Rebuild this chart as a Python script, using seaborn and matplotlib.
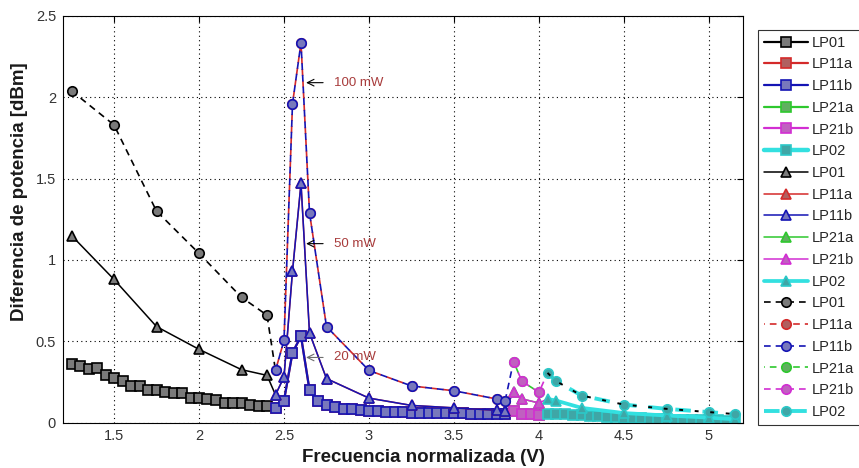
import matplotlib
matplotlib.use("Agg")
import matplotlib.pyplot as plt
import seaborn as sns
import pandas as pd

sns.set_theme(style="white")
plt.rcParams['font.family'] = ['Liberation Sans', 'DejaVu Sans']

# ---------------- data ----------------
# squares
sq_lp01_x = [1.25, 1.30, 1.35, 1.40, 1.45, 1.50, 1.55, 1.60, 1.65, 1.70, 1.75, 1.80,
             1.85, 1.90, 1.95, 2.00, 2.05, 2.10, 2.15, 2.20, 2.25, 2.30, 2.35, 2.40]
sq_lp01_y = [0.36, 0.345, 0.33, 0.335, 0.295, 0.275, 0.258, 0.227, 0.227, 0.202, 0.202, 0.186,
             0.182, 0.182, 0.151, 0.151, 0.145, 0.137, 0.117, 0.117, 0.117, 0.110, 0.104, 0.100]
sq_lp11_x = [2.45, 2.50, 2.55, 2.60, 2.65, 2.70, 2.75, 2.80, 2.85, 2.90, 2.95, 3.00, 3.05, 3.10,
             3.15, 3.20, 3.25, 3.30, 3.35, 3.40, 3.45, 3.50, 3.55, 3.60, 3.65, 3.70, 3.75, 3.80]
sq_lp11_y = [0.09, 0.135, 0.43, 0.53, 0.20, 0.13, 0.11, 0.095, 0.085, 0.08, 0.075, 0.07, 0.068, 0.066,
             0.064, 0.062, 0.061, 0.06, 0.059, 0.058, 0.057, 0.056, 0.056, 0.055, 0.055, 0.054, 0.054, 0.053]
sq_lp21_x = [3.85, 3.90, 3.95, 4.00]
sq_lp21_y = [0.07, 0.055, 0.05, 0.047]
sq_lp02_x = [4.05, 4.10, 4.15, 4.20, 4.25, 4.30, 4.35, 4.40, 4.45, 4.50, 4.55, 4.60,
             4.65, 4.70, 4.75, 4.80, 4.85, 4.90, 4.95, 5.00, 5.05, 5.10, 5.15]
sq_lp02_y = [0.055, 0.052, 0.05, 0.047, 0.044, 0.041, 0.038, 0.035, 0.032, 0.03, 0.028, 0.026,
             0.024, 0.022, 0.02, 0.018, 0.017, 0.016, 0.015, 0.014, 0.013, 0.012, 0.011]

# triangles
tr_lp01_x = [1.25, 1.5, 1.75, 2.0, 2.25, 2.4]
tr_lp01_y = [1.15, 0.88, 0.59, 0.45, 0.325, 0.29]
tr_lp11_x = [2.45, 2.5, 2.55, 2.6, 2.65, 2.75, 3.0, 3.25, 3.5, 3.75, 3.8]
tr_lp11_y = [0.17, 0.28, 0.93, 1.47, 0.55, 0.27, 0.15, 0.105, 0.09, 0.075, 0.07]
tr_lp21_x = [3.85, 3.9, 4.0]
tr_lp21_y = [0.19, 0.145, 0.12]
tr_lp02_x = [4.05, 4.1, 4.25, 4.5, 4.75, 5.0, 5.15]
tr_lp02_y = [0.145, 0.135, 0.09, 0.058, 0.043, 0.03, 0.02]

# circles
ci_lp01_x = [1.25, 1.5, 1.75, 2.0, 2.25, 2.4]
ci_lp01_y = [2.04, 1.83, 1.30, 1.04, 0.77, 0.66]
ci_lp11_x = [2.45, 2.5, 2.55, 2.6, 2.65, 2.75, 3.0, 3.25, 3.5, 3.75, 3.8]
ci_lp11_y = [0.32, 0.505, 1.96, 2.335, 1.29, 0.59, 0.32, 0.225, 0.195, 0.145, 0.13]
ci_lp21_x = [3.85, 3.9, 4.0]
ci_lp21_y = [0.375, 0.253, 0.186]
ci_lp02_x = [4.05, 4.1, 4.25, 4.5, 4.75, 5.0, 5.15]
ci_lp02_y = [0.305, 0.255, 0.166, 0.11, 0.084, 0.064, 0.052]

modes = ["LP01", "LP11a", "LP11b", "LP21a", "LP21b", "LP02"]
x_ticks = [1.5, 2, 2.5, 3, 3.5, 4, 4.5, 5]
y_ticks = [0, 0.5, 1, 1.5, 2, 2.5]

annot_labels = ["100 mW", "50 mW", "20 mW"]
annot_y = [2.09, 1.10, 0.40]

# ---------------- styles ----------------
line_col = {"LP01": "#000000", "LP11a": "#d42a2a", "LP11b": "#1414b4",
            "LP21a": "#2ec82e", "LP21b": "#d22ed2", "LP02": "#33e0e0"}
face_col = {"LP01": "#7a7a7a", "LP11a": "#b06060", "LP11b": "#7878bc",
            "LP21a": "#60b060", "LP21b": "#c060c0", "LP02": "#3fa6a6"}

fig = plt.figure(figsize=(8.59, 4.68), dpi=100)
ax = fig.add_axes([63 / 859, 1 - 422.5 / 468, 680 / 859, 406.5 / 468])

groups = [
    ("s", "-", {"LP01": (sq_lp01_x, sq_lp01_y), "LP11a": (sq_lp11_x, sq_lp11_y),
                "LP11b": (sq_lp11_x, sq_lp11_y), "LP21a": (sq_lp21_x, sq_lp21_y),
                "LP21b": (sq_lp21_x, sq_lp21_y), "LP02": (sq_lp02_x, sq_lp02_y)}, 6.6, 1.6),
    ("^", "-", {"LP01": (tr_lp01_x, tr_lp01_y), "LP11a": (tr_lp11_x, tr_lp11_y),
                "LP11b": (tr_lp11_x, tr_lp11_y), "LP21a": (tr_lp21_x, tr_lp21_y),
                "LP21b": (tr_lp21_x, tr_lp21_y), "LP02": (tr_lp02_x, tr_lp02_y)}, 6.8, 1.1),
    ("o", "--", {"LP01": (ci_lp01_x, ci_lp01_y), "LP11a": (ci_lp11_x, ci_lp11_y),
                 "LP11b": (ci_lp11_x, ci_lp11_y), "LP21a": (ci_lp21_x, ci_lp21_y),
                 "LP21b": (ci_lp21_x, ci_lp21_y), "LP02": (ci_lp02_x, ci_lp02_y)}, 6.8, 1.2),
]

# which series continue into the next one
next_of = {"LP01": "LP11b", "LP11b": "LP21b", "LP21b": "LP02"}

handles = []
labels = []
for marker, ls, data, ms, lw in groups:
    for m in modes:
        x, y = data[m]
        xs, ys = list(x), list(y)
        if m in next_of:
            nx, ny = data[next_of[m]]
            xs.append(nx[0])
            ys.append(ny[0])
        df = pd.DataFrame({"x": xs, "y": ys})
        lwm = lw
        if m == "LP02":
            lwm = lw + 1.6
        linestyle = ls
        if ls == "--":
            linestyle = (0, (4, 3))
            if m in ("LP11a", "LP21a"):
                linestyle = (3.5, (4, 3))
        sns.lineplot(data=df, x="x", y="y", ax=ax, sort=False, estimator=None,
                     color=line_col[m], linestyle=linestyle, linewidth=lwm,
                     marker=marker, markersize=ms, markerfacecolor=face_col[m],
                     markeredgecolor=line_col[m] if m != "LP02" else "#2cc8c8",
                     markeredgewidth=1.2, markevery=list(range(len(x))),
                     label=m, legend=False)
        ln = ax.lines[-1]
        handles.append(ln)
        labels.append(m)
        if m == "LP02" and marker == "o":
            sns.lineplot(data=df, x="x", y="y", ax=ax, sort=False, estimator=None,
                         color="#000000", linestyle=(0, (2, 6)), linewidth=1.4,
                         legend=False)

# annotations
arrow_cols = ["#000000", "#000000", "#6e6e6e"]
for lab, yy, ac in zip(annot_labels, annot_y, arrow_cols):
    ax.annotate("", xy=(2.63, yy), xytext=(2.73, yy),
                arrowprops=dict(arrowstyle="->", color=ac, lw=0.8,
                                shrinkA=0, shrinkB=0))
    ax.text(2.795, yy, lab, color="#a83c3c", fontsize=9.5, va="center", ha="left")

ax.set_xlim(1.2, 5.2)
ax.set_ylim(0, 2.5)
ax.set_xticks(x_ticks)
ax.set_xticklabels([f"{v:g}" for v in x_ticks])
ax.set_yticks(y_ticks)
ax.set_yticklabels([f"{v:g}" for v in y_ticks])
ax.grid(True, linestyle=(0, (1, 3)), color="#000000", linewidth=0.8)
ax.tick_params(direction="in", top=True, right=True, length=4, width=0.8,
               labelsize=10.5, labelcolor="#333333", color="#000000", pad=5)
for sp in ax.spines.values():
    sp.set_color("#000000")
    sp.set_linewidth(0.8)

ax.set_xlabel("Frecuencia normalizada (V)", fontsize=13.5, fontweight="bold",
              color="#1a1a1a")
ax.set_ylabel("Diferencia de potencia [dBm]", fontsize=13.5, fontweight="bold",
              color="#1a1a1a")
ax.xaxis.set_label_coords(0.53, -0.065)
ax.yaxis.set_label_coords(-0.052, 0.567)

leg = ax.legend(handles, labels, loc="upper left", bbox_to_anchor=(1.022, 0.966),
                borderaxespad=0, fontsize=10.5, handlelength=3.0, handletextpad=0.3,
                labelspacing=0.53, frameon=True, fancybox=False, edgecolor="#000000",
                borderpad=0.4, numpoints=1)
leg.get_frame().set_linewidth(0.8)

fig.savefig("out.png", dpi=100)
